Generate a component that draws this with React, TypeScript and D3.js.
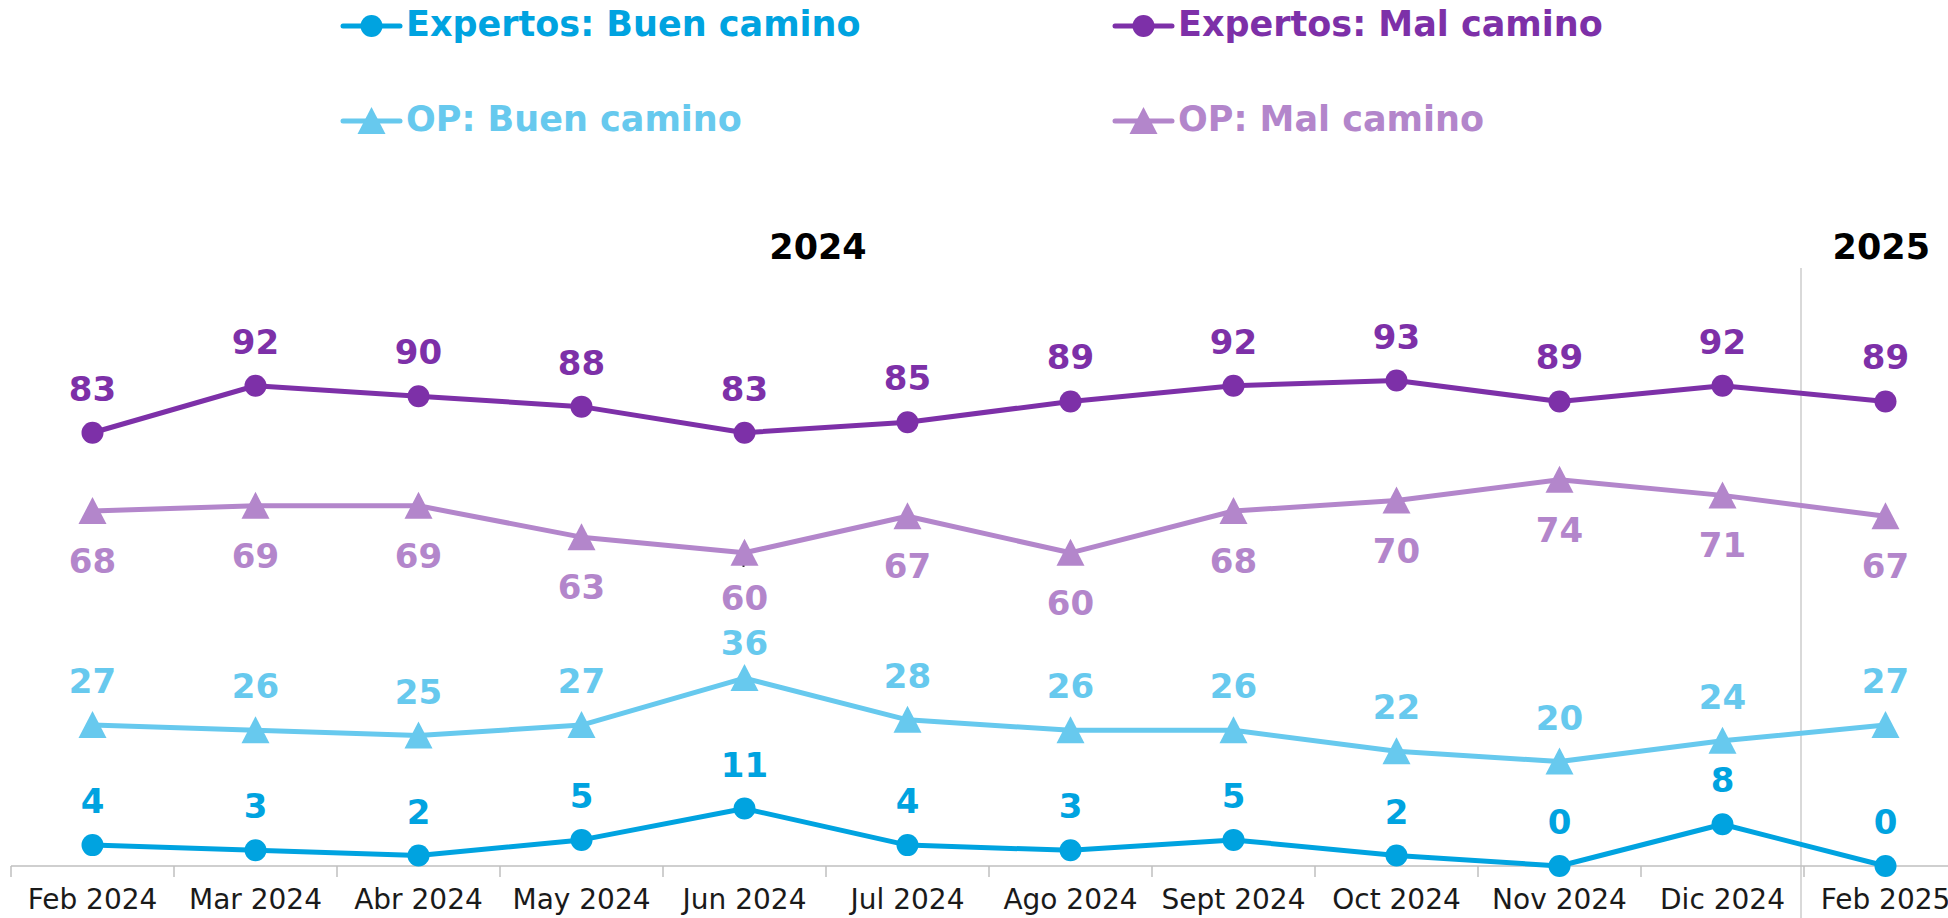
import React from "react";
import * as d3 from "d3";

const months = [
  "Feb 2024", "Mar 2024", "Abr 2024", "May 2024", "Jun 2024", "Jul 2024",
  "Ago 2024", "Sept 2024", "Oct 2024", "Nov 2024", "Dic 2024", "Feb 2025",
];

const expBuen = [4, 3, 2, 5, 11, 4, 3, 5, 2, 0, 8, 0];
const expMal = [83, 92, 90, 88, 83, 85, 89, 92, 93, 89, 92, 89];
const opBuen = [27, 26, 25, 27, 36, 28, 26, 26, 22, 20, 24, 27];
const opMal = [68, 69, 69, 63, 60, 67, 60, 68, 70, 74, 71, 67];

const yearLabels = ["2024", "2025"];

interface Series {
  name: string;
  values: number[];
  color: string;
  marker: "circle" | "triangle";
  labelPos: "above" | "below";
}

const series: Series[] = [
  { name: "OP: Mal camino", values: opMal, color: "#B386CB", marker: "triangle", labelPos: "below" },
  { name: "OP: Buen camino", values: opBuen, color: "#67C9EE", marker: "triangle", labelPos: "above" },
  { name: "Expertos: Mal camino", values: expMal, color: "#7D30A8", marker: "circle", labelPos: "above" },
  { name: "Expertos: Buen camino", values: expBuen, color: "#00A3E0", marker: "circle", labelPos: "above" },
];

const W = 1948;
const H = 918;
const numFont = "'DejaVu Sans', sans-serif";

const Marker: React.FC<{ kind: string; x: number; y: number; color: string }> = ({ kind, x, y, color }) => {
  if (kind === "circle") return <circle cx={x} cy={y} r={11} fill={color} />;
  return (
    <path
      d={`M${x},${y - 14} L${x + 14},${y + 13} L${x - 14},${y + 13} Z`}
      fill={color}
    />
  );
};

const App: React.FC = () => {
  const x = d3.scaleBand<string>().domain(months).range([11, 11 + 12 * 163]).padding(0);
  const y = d3.scaleLinear().domain([0, 100]).range([866, 344]);
  const cx = (m: string) => (x(m) || 0) + x.bandwidth() / 2;

  const line = d3
    .line<number>()
    .x((_, i) => cx(months[i]))
    .y((d) => y(d));

  const sepX = x("Feb 2025") || 0;
  const legendItems = [
    { s: series[3], lx: 343, ly: 26 },
    { s: series[2], lx: 1115, ly: 26 },
    { s: series[1], lx: 343, ly: 121 },
    { s: series[0], lx: 1115, ly: 121 },
  ];

  // OP labels in Jun sit tighter to their lines so they don't collide
  const labelY = (s: Series, v: number, i: number) => {
    const crowded = months[i] === "Jun 2024" && s.marker === "triangle";
    if (s.labelPos === "below") return y(v) + (crowded ? 57 : 62);
    return y(v) - (crowded ? 23 : 32);
  };

  return (
    <svg width={W} height={H} style={{ position: "absolute", left: 0, top: 0, background: "#fff" }}>
      {/* legend */}
      {legendItems.map(({ s, lx, ly }) => (
        <g key={s.name}>
          <line x1={lx} x2={lx + 57} y1={ly} y2={ly} stroke={s.color} strokeWidth={5} strokeLinecap="round" />
          <Marker kind={s.marker} x={lx + 28.5} y={ly} color={s.color} />
          <text x={lx + 63} y={ly + 10} fill={s.color} fontFamily={numFont} fontWeight={700} fontSize={35}>
            {s.name}
          </text>
        </g>
      ))}

      {/* year labels */}
      <text x={818} y={259} textAnchor="middle" fontFamily={numFont} fontWeight={700} fontSize={35} fill="#000">
        {yearLabels[0]}
      </text>
      <text x={1930} y={259} textAnchor="end" fontFamily={numFont} fontWeight={700} fontSize={35} fill="#000">
        {yearLabels[1]}
      </text>

      {/* separator */}
      <line x1={sepX - 3} x2={sepX - 3} y1={268} y2={H} stroke="#D9D9D9" strokeWidth={2} />

      {/* x axis */}
      <line x1={11} x2={W} y1={866} y2={866} stroke="#BFBFBF" strokeWidth={1.5} />
      {months.map((m) => (
        <line key={m} x1={x(m)} x2={x(m)} y1={866} y2={877} stroke="#BFBFBF" strokeWidth={1.5} />
      ))}
      {months.map((m) => (
        <text key={m} x={cx(m)} y={909} textAnchor="middle" fontFamily={numFont} fontSize={28} fill="#1a1a1a">
          {m}
        </text>
      ))}

      {/* leader tick for Jun OP Mal label */}
      <line x1={cx("Jun 2024") - 1} x2={cx("Jun 2024") - 1} y1={y(opMal[4])} y2={y(opMal[4]) + 14} stroke="#000" strokeWidth={2} />

      {/* series */}
      {series.map((s) => (
        <g key={s.name}>
          <path d={line(s.values) || ""} fill="none" stroke={s.color} strokeWidth={5} strokeLinejoin="round" />
          {s.values.map((v, i) => (
            <Marker key={i} kind={s.marker} x={cx(months[i])} y={y(v)} color={s.color} />
          ))}
          {s.values.map((v, i) => (
            <text
              key={"t" + i}
              x={cx(months[i])}
              y={labelY(s, v, i)}
              textAnchor="middle"
              fontFamily={numFont}
              fontWeight={700}
              fontSize={34}
              fill={s.color}
            >
              {v}
            </text>
          ))}
        </g>
      ))}
    </svg>
  );
};

export default App;
